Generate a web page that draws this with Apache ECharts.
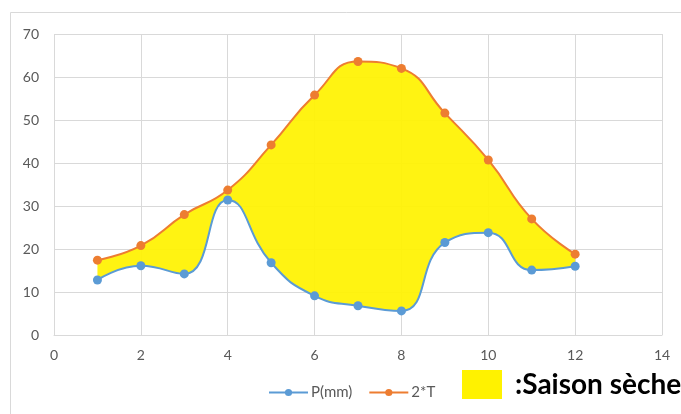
<!DOCTYPE html>
<html>
<head>
<meta charset="utf-8">
<script src="https://cdn.jsdelivr.net/npm/echarts@6/dist/echarts.min.js"></script>
<style>
  html, body { margin: 0; padding: 0; background: #fff; }
  #chart { width: 681px; height: 414px; }
</style>
</head>
<body>
<div id="chart"></div>
<script>
// Months of the year (1 = January ... 12 = December)
const months = [1, 2, 3, 4, 5, 6, 7, 8, 9, 10, 11, 12];
// Monthly precipitation, mm
const precipitation = [12.8, 16.1, 14.2, 31.4, 16.8, 9.1, 6.8, 5.6, 21.5, 23.8, 15.1, 16.0];
// Twice the mean monthly temperature, °C
const doubleTemp = [17.4, 20.8, 28.0, 33.7, 44.2, 55.8, 63.6, 62.0, 51.6, 40.7, 27.0, 18.8];

const seriesNames = ['P(mm)', '2*T'];
const dryLabel = ':Saison sèche';

const BLUE = '#5B9BD5';
const ORANGE = '#ED7D31';
const YELLOW = '#FFF200';
const GRID = '#D9D9D9';
const TEXT = '#595959';
const SMOOTH = 0.5;

// rows are [value, month] so the stacked dimension is the value
const pRows = months.map((m, i) => [precipitation[i], m]);
const tRows = months.map((m, i) => [doubleTemp[i], m]);
// gap between the two curves, stacked on top of precipitation
const gapRows = months.map((m, i) => [doubleTemp[i] - precipitation[i], m]);
const enc = { x: 1, y: 0 };

const chart = echarts.init(document.getElementById('chart'));
chart.setOption({
  animation: false,
  backgroundColor: '#fff',
  textStyle: { fontFamily: 'Lato, "Open Sans", sans-serif' },
  graphic: [{
    type: 'rect',
    shape: { x: 10.5, y: 12.5, width: 700, height: 420 },
    style: { fill: 'none', stroke: GRID, lineWidth: 1 },
    silent: true
  }],
  grid: { left: 54, right: 19, top: 34, bottom: 79 },
  xAxis: {
    type: 'value', min: 0, max: 14, interval: 2,
    axisLine: { show: true, lineStyle: { color: GRID } },
    axisTick: { show: false },
    axisLabel: { color: TEXT, fontSize: 14, margin: 13 },
    splitLine: { show: true, lineStyle: { color: GRID, width: 1 } }
  },
  yAxis: {
    type: 'value', min: 0, max: 70, interval: 10,
    axisLine: { show: false },
    axisTick: { show: false },
    axisLabel: { color: TEXT, fontSize: 14, margin: 15 },
    splitLine: { show: true, lineStyle: { color: GRID, width: 1 } }
  },
  legend: [{
    data: seriesNames,
    left: 263, top: 380,
    itemWidth: 39, itemHeight: 9, itemGap: 16,
    textStyle: { color: TEXT, fontSize: 15, padding: [0, 0, 0, -2] }
  }, {
    data: [dryLabel],
    left: 457, top: 365,
    icon: 'rect',
    itemWidth: 40, itemHeight: 29, itemGap: 10,
    selectedMode: false,
    textStyle: { color: '#000', fontSize: 28, fontWeight: 'bold', padding: [0, 0, 0, 8] }
  }],
  series: [
    {
      name: seriesNames[0], type: 'line', data: pRows, encode: enc, stack: 'dry',
      smooth: SMOOTH, symbol: 'circle', symbolSize: 9, z: 3,
      lineStyle: { color: BLUE, width: 2 }, itemStyle: { color: BLUE }
    },
    {
      name: dryLabel, type: 'line', data: gapRows, encode: enc, stack: 'dry',
      smooth: SMOOTH, symbol: 'none', z: 1,
      lineStyle: { width: 0, color: YELLOW },
      itemStyle: { color: YELLOW },
      areaStyle: { color: YELLOW, opacity: 0.93 }
    },
    {
      name: seriesNames[1], type: 'line', data: tRows, encode: enc,
      smooth: SMOOTH, symbol: 'circle', symbolSize: 9, z: 3,
      lineStyle: { color: ORANGE, width: 2 }, itemStyle: { color: ORANGE }
    }
  ]
});
</script>
</body>
</html>
